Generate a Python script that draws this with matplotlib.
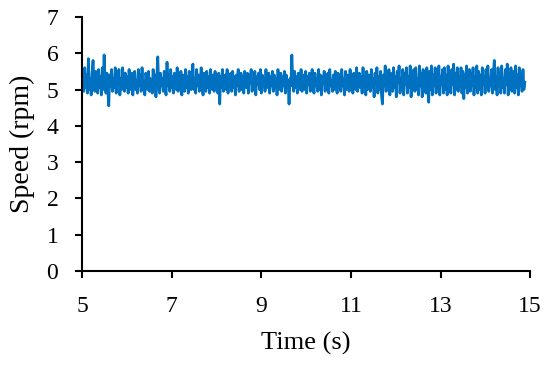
import numpy as np
import matplotlib
matplotlib.use("Agg")
import matplotlib.pyplot as plt

# speed readings (rpm), sampled evenly from 5 s to ~14.9 s
speed = [
    5.10, 5.35, 4.95, 5.60, 5.05, 5.40, 4.90, 5.85, 5.00, 5.30, 4.85, 5.45,
    5.80, 5.10, 4.95, 5.50, 5.20, 4.90, 5.55, 5.05, 5.35, 4.85, 5.60, 5.00,
    5.95, 5.15, 4.90, 5.45, 5.00, 4.55, 5.40, 5.10, 5.55, 4.95, 5.30, 5.05,
    5.60, 4.90, 5.40, 5.15, 5.55, 4.85, 5.30, 5.00, 5.60, 5.10, 4.95, 5.45,
    5.05, 5.35, 4.90, 5.55, 5.15, 5.00, 5.45, 4.85, 5.30, 5.50, 5.00, 5.25,
    4.90, 5.55, 5.10, 5.40, 4.95, 5.60, 5.05, 5.20, 4.85, 5.45, 5.35, 5.00,
    5.50, 4.95, 5.30, 5.15, 4.90, 5.55, 5.05, 5.40, 4.80, 5.35, 5.90, 5.05,
    4.90, 5.45, 5.10, 5.30, 4.95, 5.50, 5.00, 4.85, 5.75, 5.10, 5.40, 4.95,
    5.55, 5.05, 5.35, 4.90, 5.45, 5.15, 5.00, 5.60, 4.95, 5.30, 5.10, 5.50,
    4.85, 5.40, 5.20, 4.95, 5.55, 5.05, 5.35, 4.90, 5.50, 5.15, 5.00, 5.45,
    5.70, 5.00, 5.30, 4.90, 5.55, 5.10, 5.40, 4.95, 5.25, 5.60, 5.05, 4.85,
    5.45, 5.15, 4.95, 5.50, 5.05, 5.35, 4.90, 5.55, 5.20, 5.00, 5.40, 4.95,
    5.50, 5.10, 5.30, 4.90, 5.45, 4.60, 5.35, 5.05, 5.55, 4.95, 5.25, 5.40,
    5.00, 5.55, 4.90, 5.30, 5.15, 5.45, 4.95, 5.50, 5.05, 5.35, 4.85, 5.40,
    5.10, 5.55, 4.95, 5.25, 5.45, 5.00, 5.35, 4.90, 5.50, 5.15, 5.05, 5.45,
    4.90, 5.40, 5.20, 5.55, 4.95, 5.30, 5.05, 5.50, 4.85, 5.35, 5.15, 5.45,
    5.00, 5.55, 4.90, 5.40, 5.10, 5.30, 4.95, 5.55, 5.05, 5.25, 5.45, 4.90,
    5.35, 5.10, 5.50, 4.95, 5.40, 5.05, 5.30, 4.85, 5.55, 5.15, 5.00, 5.45,
    4.95, 5.35, 5.10, 5.50, 4.90, 5.40, 5.05, 5.25, 4.60, 5.30, 5.10, 5.95,
    5.20, 4.95, 5.50, 5.05, 5.35, 4.90, 5.45, 5.15, 5.00, 5.55, 4.95, 5.30,
    5.40, 5.00, 5.50, 4.90, 5.35, 5.15, 5.45, 4.95, 5.30, 5.55, 5.05, 4.90,
    5.45, 5.10, 5.30, 4.95, 5.55, 5.00, 5.40, 4.85, 5.35, 5.20, 5.50, 4.95,
    5.30, 5.05, 5.45, 4.90, 5.55, 5.10, 5.25, 4.95, 5.40, 5.00, 5.50, 5.15,
    4.90, 5.45, 5.05, 5.35, 4.95, 5.55, 5.10, 5.30, 4.85, 5.50, 5.00, 5.40,
    5.15, 4.95, 5.55, 5.05, 5.35, 4.90, 5.45, 5.20, 5.00, 5.60, 4.95, 5.30,
    5.45, 5.05, 5.35, 4.90, 5.60, 5.10, 5.25, 4.85, 5.50, 5.00, 5.40, 5.15,
    4.95, 5.55, 5.05, 5.30, 4.80, 5.45, 5.15, 5.60, 4.90, 5.35, 5.00, 5.50,
    4.85, 4.60, 5.40, 5.10, 5.65, 4.95, 5.30, 5.05, 5.55, 4.85, 5.45, 5.15,
    4.95, 5.60, 5.05, 5.35, 4.80, 5.50, 5.20, 5.65, 4.90, 5.30, 5.00, 5.55,
    4.85, 5.45, 5.15, 5.60, 4.90, 5.35, 5.05, 5.65, 4.80, 5.40, 5.10, 5.55,
    4.95, 5.60, 5.00, 5.30, 4.85, 5.65, 5.10, 5.45, 4.80, 5.55, 5.05, 5.35,
    4.90, 5.60, 5.15, 4.65, 5.50, 5.00, 5.65, 4.85, 5.40, 5.10, 5.60, 4.90,
    5.45, 5.05, 5.65, 4.85, 5.35, 5.15, 5.55, 4.90, 5.60, 5.00, 5.40, 4.85,
    5.65, 5.05, 5.30, 4.90, 5.55, 5.15, 5.70, 4.85, 5.45, 5.00, 5.60, 4.95,
    5.35, 5.10, 5.60, 4.90, 5.50, 4.75, 5.40, 5.05, 5.65, 4.90, 5.30, 5.55,
    4.95, 5.45, 5.10, 5.60, 4.85, 5.35, 5.05, 5.65, 4.90, 5.50, 5.00, 5.40,
    4.85, 5.60, 5.15, 5.35, 4.90, 5.55, 5.05, 5.65, 4.95, 5.30, 5.10, 5.55,
    4.90, 5.45, 5.80, 5.00, 5.35, 4.85, 5.60, 5.10, 5.45, 4.90, 5.65, 5.05,
    5.30, 4.90, 5.55, 5.15, 5.70, 4.85, 5.40, 5.05, 5.60, 4.95, 5.35, 5.50,
    4.90, 5.65, 5.05, 5.40, 4.85, 5.60, 5.10, 5.45, 4.95, 5.55, 5.00, 5.20,
]
t_start, t_end = 5.0, 14.88
x_ticks = [5, 7, 9, 11, 13, 15]
y_ticks = [0, 1, 2, 3, 4, 5, 6, 7]

time = np.linspace(t_start, t_end, len(speed))

plt.rcParams["font.family"] = ["Liberation Serif", "DejaVu Serif"]

fig = plt.figure(figsize=(5.5, 3.69), dpi=100)
ax = fig.add_axes([0.149, 0.266, 0.815, 0.688])
ax.plot(time, speed, color="#0070C0", linewidth=2.0)

ax.set_xlim(5, 15)
ax.set_ylim(0, 7)
ax.set_xticks(x_ticks)
ax.set_yticks(y_ticks)
ax.tick_params(labelsize=17, width=1.5, length=5, direction="out", color="black")
ax.tick_params(axis="x", pad=13)
ax.tick_params(axis="y", pad=12)
for side in ["top", "right"]:
    ax.spines[side].set_visible(False)
for side in ["left", "bottom"]:
    ax.spines[side].set_linewidth(1.5)

ax.set_xlabel("Time (s)", fontsize=19, labelpad=11)
ax.set_ylabel("Speed (rpm)", fontsize=20, labelpad=8)

fig.savefig("out.png", dpi=100)
